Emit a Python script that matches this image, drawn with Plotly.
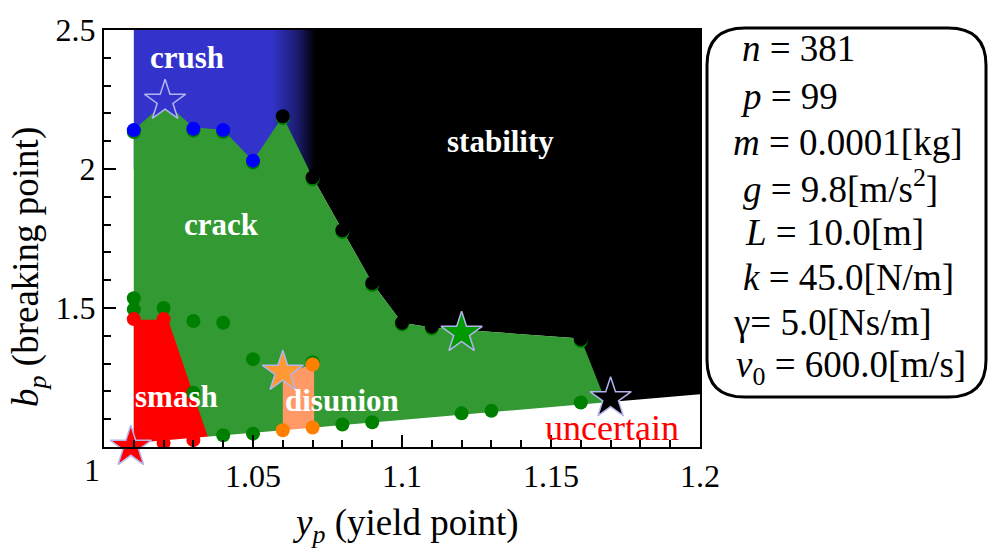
import plotly.graph_objects as go

# ---------------- data ----------------
# region boundaries (y_p, b_p)
stab_x = [1.06, 1.2, 1.2, 1.1685, 1.16, 1.11, 1.10, 1.09, 1.08, 1.07, 1.06]
stab_y = [2.5, 2.5, 1.1, 1.1, 1.39, 1.43, 1.447, 1.59, 1.78, 1.97, 2.0]

crush_x = [1.01, 1.071, 1.071, 1.01]
crush_y = [2.0, 2.0, 2.5, 2.5]

crack_x = [1.01, 1.01, 1.0205, 1.03, 1.04, 1.05, 1.06, 1.07, 1.08, 1.09, 1.10, 1.11, 1.16, 1.1685, 1.1685, 1.01]
crack_y = [1.0, 2.14, 2.24, 2.15, 2.14, 2.03, 2.19, 1.97, 1.78, 1.59, 1.447, 1.43, 1.39, 1.16, 1.0, 1.0]

smash_x = [1.01, 1.01, 1.0215, 1.035, 1.036]
smash_y = [1.0, 1.458, 1.458, 1.036, 1.0]

disunion_x = [1.06, 1.06, 1.0705, 1.0705]
disunion_y = [1.05, 1.26, 1.30, 1.05]

uncertain_x = [1.0, 1.2, 1.2, 1.0]
uncertain_y = [1.005, 1.19, 0.99, 0.99]

# sample points
crack_pts_x = [1.01, 1.01, 1.02, 1.03, 1.04, 1.05, 1.03, 1.04, 1.05, 1.08, 1.09, 1.12, 1.13, 1.16, 1.07,
               1.01, 1.03, 1.04, 1.05, 1.06, 1.07, 1.08, 1.09, 1.10, 1.11, 1.16]
crack_pts_y = [1.535, 1.495, 1.50, 1.453, 1.447, 1.316, 1.195, 1.042, 1.048, 1.081, 1.089, 1.121, 1.13, 1.16, 1.305,
               2.133, 2.138, 2.133, 2.023, 2.183, 1.963, 1.773, 1.583, 1.441, 1.426, 1.381]
crush_pts_x = [1.01, 1.03, 1.04, 1.05]
crush_pts_y = [2.14, 2.145, 2.14, 2.03]
stab_pts_x = [1.06, 1.07, 1.08, 1.09, 1.10, 1.11, 1.16]
stab_pts_y = [2.19, 1.97, 1.78, 1.59, 1.447, 1.433, 1.388]
smash_pts_x = [1.01, 1.02, 1.02, 1.03]
smash_pts_y = [1.46, 1.46, 1.015, 1.025]
disunion_pts_x = [1.06, 1.07, 1.07]
disunion_pts_y = [1.06, 1.07, 1.297]

# representative stars
star_x = [1.0205, 1.12, 1.17, 1.06, 1.009]
star_y = [2.245, 1.41, 1.175, 1.27, 1.0]
star_colors = ["#3333cc", "#009900", "#000000", "#ff9933", "#ff0000"]

# region labels
label_text = ["crush", "stability", "crack", "smash", "disunion"]
label_x = [1.0277, 1.1329, 1.0395, 1.0243, 1.0798]
label_y = [2.40, 2.10, 1.80, 1.18, 1.169]

x_tickvals = [1.05, 1.1, 1.15, 1.2]
x_ticktext = ["1.05", "1.1", "1.15", "1.2"]
y_tickvals = [1.5, 2.0, 2.5]
y_ticktext = ["1.5", "2", "2.5"]

param_lines = [
    "<i>n</i> = 381",
    "<i>p</i> = 99",
    "<i>m</i> = 0.0001[kg]",
    "<i>g</i> = 9.8[m/s<sup>2</sup>]",
    "<i>L</i> = 10.0[m]",
    "<i>k</i> = 45.0[N/m]",
    "γ= 5.0[Ns/m]",
    "<i>v</i><sub>0</sub> = 600.0[m/s]",
]
param_px_x = [740, 738, 731, 741, 743, 741, 731, 734]
param_px_y = [40, 89, 136, 181, 228, 274, 320, 366]

# ---------------- figure ----------------
FONT = "Liberation Serif, Times New Roman, serif"
W, H = 991, 551
L_M, R_M, T_M, B_M = 104, 291, 21, 104
PW = W - L_M - R_M
PH = H - T_M - B_M


def px2paper(px, py):
    return (px - L_M) / PW, (H - B_M - py) / PH


fig = go.Figure()


def poly(x, y, color):
    fig.add_trace(go.Scatter(x=x, y=y, fill="toself", fillcolor=color, mode="lines",
                             line=dict(width=0, color=color), hoverinfo="skip", showlegend=False))


poly(stab_x, stab_y, "#000000")
fig.add_trace(go.Scatter(x=crush_x, y=crush_y, fill="toself", mode="lines",
                         fillgradient=dict(type="horizontal",
                                           colorscale=[[0, "#3333cc"], [0.76, "#3333cc"],
                                                       [0.9, "#1c1c70"], [1, "#000000"]]),
                         line=dict(width=0, color="#3333cc"), hoverinfo="skip", showlegend=False))
poly(crack_x, crack_y, "#339933")
poly(smash_x, smash_y, "#ff0000")
poly(disunion_x, disunion_y, "#ff9966")
poly(uncertain_x, uncertain_y, "#ffffff")


def dots(x, y, color):
    fig.add_trace(go.Scatter(x=x, y=y, mode="markers",
                             marker=dict(size=14, color=color, line=dict(width=0)),
                             hoverinfo="skip", showlegend=False))


dots(crack_pts_x, crack_pts_y, "#008000")
dots(crush_pts_x, crush_pts_y, "#0000ff")
dots(stab_pts_x, stab_pts_y, "#000000")
dots(smash_pts_x, smash_pts_y, "#ff0000")
dots(disunion_pts_x, disunion_pts_y, "#ff8000")

fig.add_trace(go.Scatter(x=star_x, y=star_y, mode="markers", cliponaxis=False,
                         marker=dict(symbol="star", size=31, color=star_colors,
                                     line=dict(width=1.5, color="#b4b4f0")),
                         hoverinfo="skip", showlegend=False))

for t, x, y in zip(label_text, label_x, label_y):
    fig.add_annotation(x=x, y=y, text="<b>%s</b>" % t, showarrow=False,
                       font=dict(family=FONT, size=31, color="white"),
                       xanchor="center", yanchor="middle")

fig.add_annotation(x=1.1704, y=1.067, text="uncertain", showarrow=False,
                   font=dict(family=FONT, size=36, color="#ff0000"),
                   xanchor="center", yanchor="middle")

# parameter box
bx0, by0 = px2paper(707, 396)
bx1, by1 = px2paper(986, 19)
rx = 38 / PW
ry = 38 / PH
path = (f"M {bx0 + rx},{by1} L {bx1 - rx},{by1} Q {bx1},{by1} {bx1},{by1 - ry} "
        f"L {bx1},{by0 + ry} Q {bx1},{by0} {bx1 - rx},{by0} "
        f"L {bx0 + rx},{by0} Q {bx0},{by0} {bx0},{by0 + ry} "
        f"L {bx0},{by1 - ry} Q {bx0},{by1} {bx0 + rx},{by1} Z")
fig.add_shape(type="path", xref="paper", yref="paper", path=path,
              line=dict(color="black", width=3), fillcolor="white", layer="above")

for txt, px, py in zip(param_lines, param_px_x, param_px_y):
    ax, ay = px2paper(px, py)
    fig.add_annotation(x=ax, y=ay, xref="paper", yref="paper", text=txt, showarrow=False,
                       font=dict(family=FONT, size=37, color="black"),
                       xanchor="left", yanchor="middle")

# axis titles and shared "1" label
tx, ty = px2paper(405, 527)
fig.add_annotation(x=tx, y=ty, xref="paper", yref="paper",
                   text="<i>y</i><sub><i>p</i></sub> (yield point)", showarrow=False,
                   font=dict(family=FONT, size=37, color="black"), xanchor="center", yanchor="middle")
tx, ty = px2paper(29, 263)
fig.add_annotation(x=tx, y=ty, xref="paper", yref="paper",
                   text="<i>b</i><sub><i>p</i></sub> (breaking point)", showarrow=False, textangle=-90,
                   font=dict(family=FONT, size=37, color="black"), xanchor="center", yanchor="middle")
tx, ty = px2paper(92, 470)
fig.add_annotation(x=tx, y=ty, xref="paper", yref="paper", text="1", showarrow=False,
                   font=dict(family=FONT, size=32, color="black"), xanchor="center", yanchor="middle")

axis_common = dict(showline=True, linecolor="black", linewidth=2, mirror=True,
                   ticks="inside", ticklen=12, tickwidth=1.5, tickcolor="black",
                   showgrid=False, zeroline=False,
                   tickfont=dict(family=FONT, size=32, color="black"))

fig.update_xaxes(range=[1.0, 1.2], tickmode="array", tickvals=x_tickvals, ticktext=x_ticktext,
                 minor=dict(tickmode="linear", tick0=1.0, dtick=0.01, ticks="inside", ticklen=7,
                            tickwidth=1.5, tickcolor="black", showgrid=False),
                 **axis_common)
fig.update_yaxes(range=[1.0, 2.5], tickmode="array", tickvals=y_tickvals, ticktext=y_ticktext,
                 minor=dict(tickmode="linear", tick0=1.0, dtick=0.1, ticks="inside", ticklen=7,
                            tickwidth=1.5, tickcolor="black", showgrid=False),
                 **axis_common)

fig.update_layout(width=W, height=H, autosize=False,
                  margin=dict(l=L_M, r=R_M, t=T_M, b=B_M, pad=0),
                  paper_bgcolor="white", plot_bgcolor="white",
                  font=dict(family=FONT, color="black"), showlegend=False)

fig.write_html("out.html")
